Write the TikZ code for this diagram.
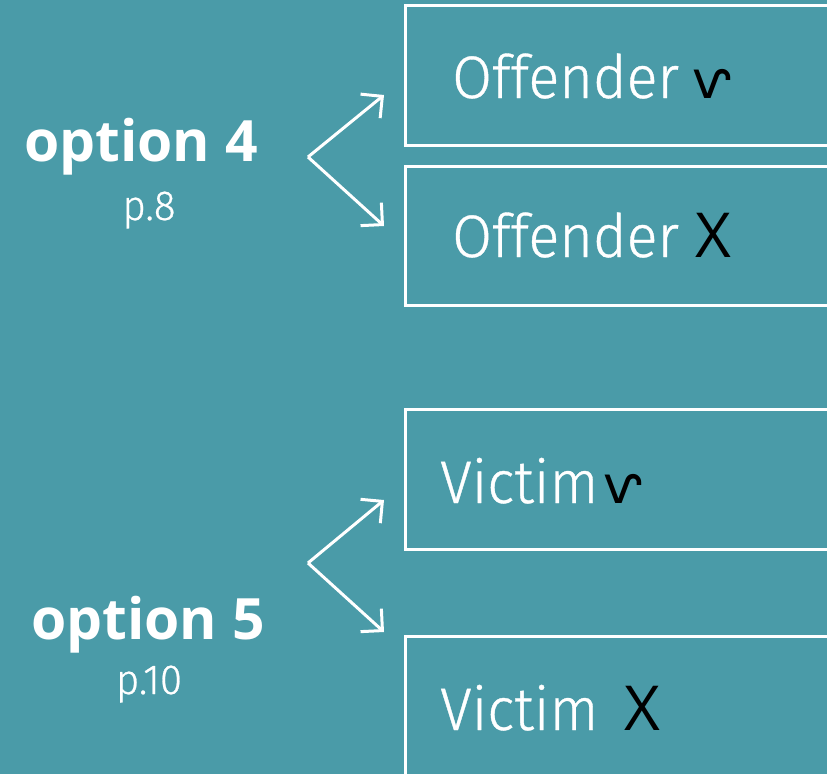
\documentclass[tikz,border=0pt]{standalone}
\usepackage{fontspec}
\usetikzlibrary{arrows.meta}
\newfontfamily\boldsans{Open Sans Bold}
\newfontfamily\lightcond[FakeStretch=0.96,FakeBold=0.6]{Fira Sans Light}
\newfontfamily\markfont{DejaVu Sans}
\newfontfamily\xfont{Open Sans}
\definecolor{bgteal}{HTML}{4A9BA8}
\tikzset{
  boxframe/.style={draw=white, line width=3pt},
  boxtext/.style={anchor=base west, inner sep=0pt, text=white, font=\lightcond\fontsize{60}{60}\selectfont},
  opttext/.style={anchor=base, inner sep=0pt, text=white, font=\boldsans\fontsize{57}{57}\selectfont},
  pagetext/.style={anchor=base, inner sep=0pt, text=white, font=\lightcond\fontsize{42}{42}\selectfont},
  chev/.style={draw=white, line width=3pt, -{Straight Barb[length=15.5pt, width=31pt, line width=3pt]}},
}
\newcommand{\okmark}{{\color{black}\markfont\fontsize{52}{52}\selectfont ⱱ}}
\newcommand{\nomark}{{\color{black}\xfont\fontsize{62}{62}\selectfont X}}
\begin{document}
\begin{tikzpicture}[x=1pt,y=-1pt]
\useasboundingbox (0,0) rectangle (827,774);
\fill[bgteal] (0,0) rectangle (827,774);
\clip (0,0) rectangle (827,774);
% boxes
\draw[boxframe] (405,5) rectangle (850,145);
\draw[boxframe] (405,166) rectangle (850,305);
\draw[boxframe] (405,409) rectangle (850,549);
\draw[boxframe] (405,636) rectangle (850,800);
% box texts
\node[boxtext] (t1) at (452,98) {Offender\hspace{14pt}\okmark};
\node[boxtext] (t2) at (452,257) {Offender \nomark};
\node[boxtext] (t3) at (440,503) {Victim\hspace{5pt}\okmark};
\node[boxtext] (t4) at (440,730) {Victim\hspace{26pt}\nomark};
% option labels
\node[opttext] (o4) at (141,161) {option 4};
\node[pagetext] (p4) at (149,220) {p.8};
\node[opttext] (o5) at (148,639) {option 5};
\node[pagetext] (p5) at (149,694) {p.10};
% chevrons
\coordinate (a4) at (308,157);
\coordinate (u4) at (384,95);
\coordinate (d4) at (384,226);
\coordinate (a5) at (308,563);
\coordinate (u5) at (384,500);
\coordinate (d5) at (384,632);
\draw[chev] (a4) -- (u4);
\draw[chev] (a4) -- (d4);
\draw[chev] (a5) -- (u5);
\draw[chev] (a5) -- (d5);
\end{tikzpicture}
\end{document}
